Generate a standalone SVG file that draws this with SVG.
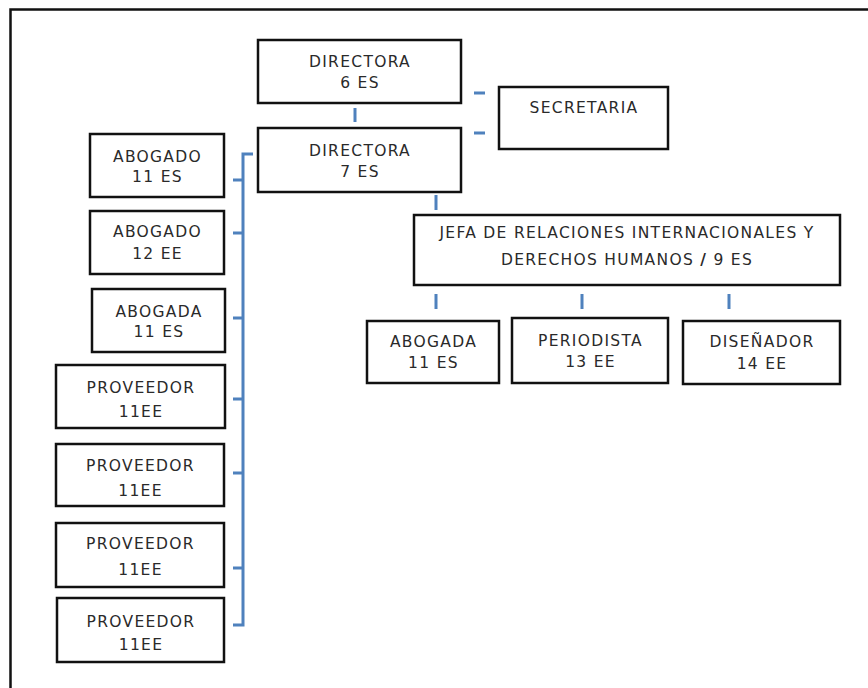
<svg xmlns="http://www.w3.org/2000/svg" width="868" height="688" viewBox="0 0 868 688">
<style>
.box{fill:#fff;stroke:#111;stroke-width:2.5}
.t{font-family:"DejaVu Sans","Liberation Sans",sans-serif;font-size:15.5px;fill:#2a2a2a;text-anchor:middle;letter-spacing:1.3px}
.c{stroke:#4f81bd;stroke-width:3;fill:none}
</style>
<rect x="0" y="0" width="868" height="688" fill="#fff"/>
<rect x="10.5" y="9.5" width="900" height="700" fill="none" stroke="#111" stroke-width="2.5"/>
<g id="connectors">
<path class="c" d="M355 108V122"/>
<path class="c" d="M474 93H485M474 133H485"/>
<path class="c" d="M436 195V210"/>
<path class="c" d="M436 294V309M582 294V309M729 294V309"/>
<path class="c" d="M253 154H243V625H233"/>
<path class="c" d="M233 180H243M233 233H243M233 318H243M233 399H243M233 473H243M233 568H243"/>
</g>
<g id="directora6"><rect class="box" x="258" y="40" width="203" height="63"/><text class="t" x="360" y="67">DIRECTORA</text><text class="t" x="360" y="88">6 ES</text></g>
<g id="directora7"><rect class="box" x="258" y="128" width="203" height="64"/><text class="t" x="360" y="156">DIRECTORA</text><text class="t" x="360" y="177">7 ES</text></g>
<g id="secretaria"><rect class="box" x="499" y="87" width="169" height="62"/><text class="t" x="584" y="113">SECRETARIA</text></g>
<g id="jefa"><rect class="box" x="414" y="215" width="426" height="70"/><text class="t" x="627" y="238">JEFA DE RELACIONES INTERNACIONALES Y</text><text class="t" x="627" y="265">DERECHOS HUMANOS <tspan font-weight="bold">/</tspan> 9 ES</text></g>
<g id="abogada-r"><rect class="box" x="367" y="321" width="132" height="62"/><text class="t" x="433.5" y="347">ABOGADA</text><text class="t" x="433.5" y="368">11 ES</text></g>
<g id="periodista"><rect class="box" x="512" y="318" width="156" height="65"/><text class="t" x="590.5" y="346">PERIODISTA</text><text class="t" x="590.5" y="367">13 EE</text></g>
<g id="disenador"><rect class="box" x="683" y="321" width="157" height="63"/><text class="t" x="762" y="347">DISEÑADOR</text><text class="t" x="762" y="369">14 EE</text></g>
<g id="abogado1"><rect class="box" x="90" y="134" width="134" height="63"/><text class="t" x="157.5" y="162">ABOGADO</text><text class="t" x="157.5" y="182">11 ES</text></g>
<g id="abogado2"><rect class="box" x="90" y="211" width="134" height="63"/><text class="t" x="157.5" y="237">ABOGADO</text><text class="t" x="157.5" y="259">12 EE</text></g>
<g id="abogada-l"><rect class="box" x="92" y="289" width="133" height="63"/><text class="t" x="159" y="317">ABOGADA</text><text class="t" x="159" y="337">11 ES</text></g>
<g id="proveedor1"><rect class="box" x="56" y="365" width="169" height="63"/><text class="t" x="141" y="393">PROVEEDOR</text><text class="t" x="141" y="417">11EE</text></g>
<g id="proveedor2"><rect class="box" x="56" y="444" width="168" height="62"/><text class="t" x="140.5" y="471">PROVEEDOR</text><text class="t" x="140.5" y="496">11EE</text></g>
<g id="proveedor3"><rect class="box" x="56" y="523" width="168" height="64"/><text class="t" x="140.5" y="549">PROVEEDOR</text><text class="t" x="140.5" y="575">11EE</text></g>
<g id="proveedor4"><rect class="box" x="57" y="598" width="167" height="64"/><text class="t" x="141" y="627">PROVEEDOR</text><text class="t" x="141" y="650">11EE</text></g>
</svg>
